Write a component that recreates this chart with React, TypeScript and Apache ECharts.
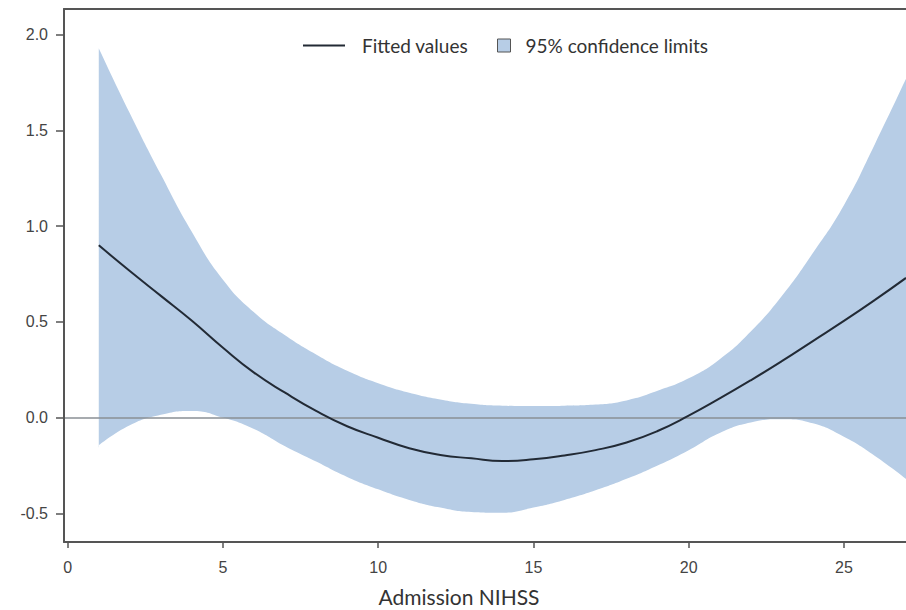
import React, { useEffect, useRef } from "react";
import * as echarts from "echarts";

const xValues = [1, 2, 3, 4, 5, 6, 7, 8, 9, 10, 11, 12, 13, 14, 15, 16, 17, 18, 19, 20, 21, 22, 23, 24, 25, 26, 27];
const fitted = [0.9, 0.766, 0.636, 0.506, 0.365, 0.235, 0.13, 0.035, -0.045, -0.105, -0.16, -0.195, -0.213, -0.227, -0.218, -0.198, -0.17, -0.13, -0.07, 0.01, 0.1, 0.195, 0.295, 0.4, 0.505, 0.615, 0.73];
const upper = [1.93, 1.59, 1.27, 0.97, 0.72, 0.55, 0.43, 0.33, 0.245, 0.18, 0.13, 0.095, 0.072, 0.062, 0.06, 0.062, 0.068, 0.09, 0.14, 0.205, 0.305, 0.45, 0.635, 0.86, 1.11, 1.43, 1.77];
const lower = [-0.145, -0.04, 0.015, 0.035, 0.0, -0.06, -0.15, -0.23, -0.31, -0.375, -0.43, -0.47, -0.493, -0.497, -0.47, -0.43, -0.38, -0.32, -0.25, -0.17, -0.08, -0.025, -0.008, -0.03, -0.1, -0.2, -0.32];
const xTicks = [0, 5, 10, 15, 20, 25];
const yTicks = [-0.5, 0, 0.5, 1.0, 1.5, 2.0];

const X_MIN = -0.12;
const X_MAX = 27;
const Y_MIN = -0.65;
const Y_MAX = 2.135;

const AXIS_COLOR = "#555";
const BAND_COLOR = "#b7cde6";
const LINE_COLOR = "#222a35";

export default function App() {
  const ref = useRef<HTMLDivElement>(null);
  useEffect(() => {
    const chart = echarts.init(ref.current!, null, { renderer: "svg" });
    const upperData = xValues.map((x, i) => [x, upper[i]]);
    const lowerData = xValues.map((x, i) => [x, lower[i]]);
    const fitData = xValues.map((x, i) => [x, fitted[i]]);
    const labelStyle = { fontFamily: "Liberation Sans", fontSize: 16, color: "#444" };
    const legendText = { fontFamily: "Lato", fontSize: 19, color: "#333" };
    chart.setOption({
      animation: false,
      backgroundColor: "#fff",
      grid: { left: 64, right: 0, top: 9, bottom: 68, containLabel: false, outerBoundsMode: "none" },
      xAxis: [
        {
          type: "value",
          min: X_MIN,
          max: X_MAX,
          position: "bottom",
          z: 10,
          axisLine: { show: true, onZero: false, lineStyle: { color: AXIS_COLOR, width: 2 } },
          axisTick: { show: true, customValues: xTicks, length: 6, lineStyle: { color: AXIS_COLOR, width: 1.5 } },
          axisLabel: { customValues: xTicks, margin: 17, ...labelStyle },
          splitLine: { show: false },
        },
        {
          type: "value",
          min: X_MIN,
          max: X_MAX,
          position: "top",
          z: 10,
          axisLine: { show: true, onZero: false, lineStyle: { color: AXIS_COLOR, width: 2 } },
          axisTick: { show: false },
          axisLabel: { show: false },
          splitLine: { show: false },
        },
      ],
      yAxis: {
        type: "value",
        min: Y_MIN,
        max: Y_MAX,
        z: 10,
        axisLine: { show: true, onZero: false, lineStyle: { color: AXIS_COLOR, width: 2 } },
        axisTick: { show: true, customValues: yTicks, length: 8, lineStyle: { color: AXIS_COLOR, width: 1.5 } },
        axisLabel: {
          customValues: yTicks,
          margin: 16,
          formatter: (v: number) => v.toFixed(1),
          ...labelStyle,
        },
        splitLine: { show: false },
      },
      legend: [
        {
          left: 303,
          top: 36,
          padding: 0,
          itemWidth: 42,
          itemHeight: 2,
          icon: "rect",
          selectedMode: false,
          data: [{ name: "Fitted values", itemStyle: { color: LINE_COLOR } }],
          textStyle: { ...legendText, padding: [0, 0, 0, 12] },
        },
        {
          left: 497,
          top: 36,
          padding: 0,
          itemWidth: 13,
          itemHeight: 13,
          icon: "rect",
          selectedMode: false,
          data: [{ name: "95% confidence limits", itemStyle: { color: BAND_COLOR, borderColor: "#555", borderWidth: 1 } }],
          textStyle: { ...legendText, padding: [0, 0, 0, 10] },
        },
      ],
      graphic: [
        {
          type: "text",
          x: 459,
          y: 596,
          style: {
            text: "Admission NIHSS",
            fontFamily: "Lato",
            fontSize: 21,
            fill: "#333",
            align: "center",
            verticalAlign: "middle",
          },
        },
      ],
      series: [
        {
          name: "95% confidence limits",
          type: "line",
          xAxisIndex: 0,
          data: upperData,
          smooth: 0.5,
          symbol: "none",
          color: BAND_COLOR,
          lineStyle: { width: 0, opacity: 0 },
          areaStyle: { color: BAND_COLOR, opacity: 1, origin: "start" },
          silent: true,
          z: 1,
        },
        {
          name: "lowerMask",
          type: "line",
          xAxisIndex: 0,
          data: lowerData,
          smooth: 0.5,
          symbol: "none",
          color: "#ffffff",
          lineStyle: { width: 0, opacity: 0 },
          areaStyle: { color: "#ffffff", opacity: 1, origin: "start" },
          silent: true,
          z: 1,
          markLine: {
            silent: true,
            symbol: ["none", "none"],
            label: { show: false },
            lineStyle: { color: "#ffffff", width: 2, type: "solid", opacity: 1 },
            data: [
              [
                { coord: [xValues[0], Y_MIN] },
                { coord: [xValues[0], lower[0] - 0.01] },
              ],
            ],
          },
        },
        {
          name: "Fitted values",
          type: "line",
          xAxisIndex: 0,
          data: fitData,
          smooth: 0.5,
          symbol: "none",
          color: LINE_COLOR,
          lineStyle: { color: LINE_COLOR, width: 2 },
          silent: true,
          z: 3,
          markLine: {
            silent: true,
            symbol: ["none", "none"],
            label: { show: false },
            lineStyle: { color: "#8a8f94", width: 1.5, type: "solid" },
            data: [{ yAxis: 0 }],
            z: 2,
          },
        },
      ],
    });
    return () => chart.dispose();
  }, []);
  return (
    <div
      ref={ref}
      style={{ position: "fixed", left: 0, top: 0, width: 906, height: 610, background: "#fff" }}
    />
  );
}
